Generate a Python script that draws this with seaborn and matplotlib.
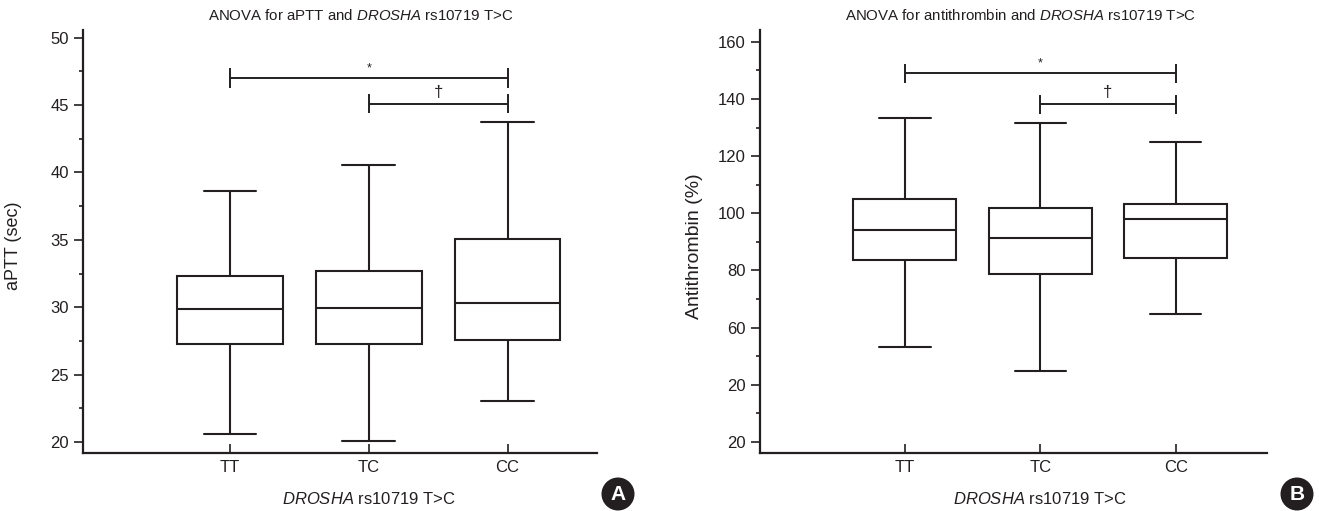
import numpy as np
import pandas as pd
import matplotlib
matplotlib.use("Agg")
import matplotlib.pyplot as plt
from matplotlib.patches import Ellipse
from matplotlib.ticker import FixedLocator
import seaborn as sns

# ---------------- data ----------------
genotypes = ["TT", "TC", "CC"]

aptt_min = [20.6, 20.05, 23.05]
aptt_q1 = [27.3, 27.3, 27.55]
aptt_med = [29.9, 29.95, 30.3]
aptt_q3 = [32.3, 32.7, 35.05]
aptt_max = [38.65, 40.55, 43.75]

at_min = [53.2, 44.9, 64.6]
at_q1 = [83.8, 78.9, 84.5]
at_med = [94.3, 91.4, 97.9]
at_q3 = [105.0, 101.7, 103.4]
at_max = [133.2, 131.7, 124.9]

aptt_ticks = [20, 25, 30, 35, 40, 45, 50]
aptt_ticklabels = ["20", "25", "30", "35", "40", "45", "50"]
at_ticks = [20, 40, 60, 80, 100, 120, 140, 160]
at_ticklabels = ["20", "20", "60", "80", "100", "120", "140", "160"]

# significance brackets: (from category, to category, level, symbol)
aptt_brackets = [("TT", "CC", 47.0, "*"), ("TC", "CC", 45.1, "\u2020")]
at_brackets = [("TT", "CC", 148.9, "*"), ("TC", "CC", 138.1, "\u2020")]

titles = ["ANOVA for aPTT and $\\mathit{DROSHA}$ rs10719 T>C",
          "ANOVA for antithrombin and $\\mathit{DROSHA}$ rs10719 T>C"]
ylabels = ["aPTT (sec)", "Antithrombin (%)"]
xlabel = "$\\mathit{DROSHA}$ rs10719 T>C"
panel_letters = ["A", "B"]


def long_frame(mins, q1s, meds, q3s, maxs):
    rows = []
    for g, a, b, c, d, e in zip(genotypes, mins, q1s, meds, q3s, maxs):
        for v in (a, b, c, d, e):
            rows.append({"genotype": g, "value": v})
    return pd.DataFrame(rows)


df_aptt = long_frame(aptt_min, aptt_q1, aptt_med, aptt_q3, aptt_max)
df_at = long_frame(at_min, at_q1, at_med, at_q3, at_max)

# ---------------- style ----------------
sns.set_theme(style="white")
plt.rcParams["font.family"] = ["Liberation Sans", "DejaVu Sans"]
plt.rcParams["mathtext.fontset"] = "custom"
plt.rcParams["mathtext.it"] = "Liberation Sans:italic"
plt.rcParams["mathtext.rm"] = "Liberation Sans"
INK = "#231f20"

W, H = 1319, 511
fig = plt.figure(figsize=(W / 100, H / 100), dpi=100)


def px_axes(x0, x1, y0, y1):
    return fig.add_axes([x0 / W, 1 - y1 / H, (x1 - x0) / W, (y1 - y0) / H])


ax1 = px_axes(83, 597, 30, 453)
ax2 = px_axes(760, 1267, 30, 453)

configs = [
    (ax1, df_aptt, (-1.06, 2.645), (19.19, 50.57), aptt_ticks, aptt_ticklabels,
     aptt_brackets, 0.72, 0.54, (-0.118, 0.49), 13),
    (ax2, df_at, (-1.069, 2.674), (16.16, 164.1), at_ticks, at_ticklabels,
     at_brackets, 3.4, 0.513, (-0.112, 0.49), 14),
]

for i, (ax, df, xlim, ylim, ticks, ticklabels, brackets, tickh, title_x,
        ylab_pos, ylab_size) in enumerate(configs):
    sns.boxplot(data=df, x="genotype", y="value", order=genotypes, ax=ax,
                whis=(0, 100), width=0.76, color="white", linecolor=INK,
                linewidth=1.5, showfliers=False, saturation=1)
    ax.set_xlim(*xlim)
    ax.set_ylim(*ylim)
    ax.yaxis.set_major_locator(FixedLocator(ticks))
    ax.set_yticklabels(ticklabels)
    step = ticks[1] - ticks[0]
    minors = [t + step / 2 for t in ticks[:-1]]
    ax.yaxis.set_minor_locator(FixedLocator(minors))
    for s in ("top", "right"):
        ax.spines[s].set_visible(False)
    for s in ("left", "bottom"):
        ax.spines[s].set_color(INK)
        ax.spines[s].set_linewidth(1.6)
    ax.tick_params(axis="y", which="major", direction="out", length=6.3, width=1.2,
                   color=INK, labelsize=12, labelcolor=INK, pad=4, left=True)
    ax.tick_params(axis="y", which="minor", direction="out", length=3.2, width=1.2,
                   color=INK, left=True)
    ax.tick_params(axis="x", which="major", direction="in", length=6.5, width=1.2,
                   color=INK, labelsize=12, labelcolor=INK, pad=5, bottom=True)
    ax.set_xlabel(xlabel, fontsize=12, color=INK)
    xc = (1 - xlim[0]) / (xlim[1] - xlim[0])
    ax.xaxis.set_label_coords(xc, -0.09)
    ax.set_ylabel(ylabels[i], fontsize=ylab_size, color=INK)
    ax.yaxis.set_label_coords(*ylab_pos)
    ax.set_title(titles[i], fontsize=10.8, color=INK, x=title_x, pad=7)
    ax.grid(False)

    # significance brackets
    for a, b, yv, sym in brackets:
        xa, xb = genotypes.index(a), genotypes.index(b)
        ax.plot([xa, xb], [yv, yv], color=INK, lw=1.4, solid_capstyle="butt")
        for xx in (xa, xb):
            ax.plot([xx, xx], [yv - tickh, yv + tickh], color=INK, lw=1.4,
                    solid_capstyle="butt")
        size = 9 if sym == "*" else 12
        ax.annotate(sym, ((xa + xb) / 2, yv), xytext=(0, 3),
                    textcoords="offset points", ha="center", va="bottom",
                    fontsize=size, color=INK)

# panel letters
for (cx, cy), letter in zip([(618, 494), (1297, 494)], panel_letters):
    fig.patches.append(Ellipse((cx / W, 1 - cy / H), 33 / W, 33 / H,
                               transform=fig.transFigure, facecolor=INK,
                               edgecolor="none"))
    fig.text(cx / W, 1 - cy / H, letter, ha="center", va="center", color="white",
             fontsize=15, fontweight="bold")

fig.savefig("out.png", dpi=100)
